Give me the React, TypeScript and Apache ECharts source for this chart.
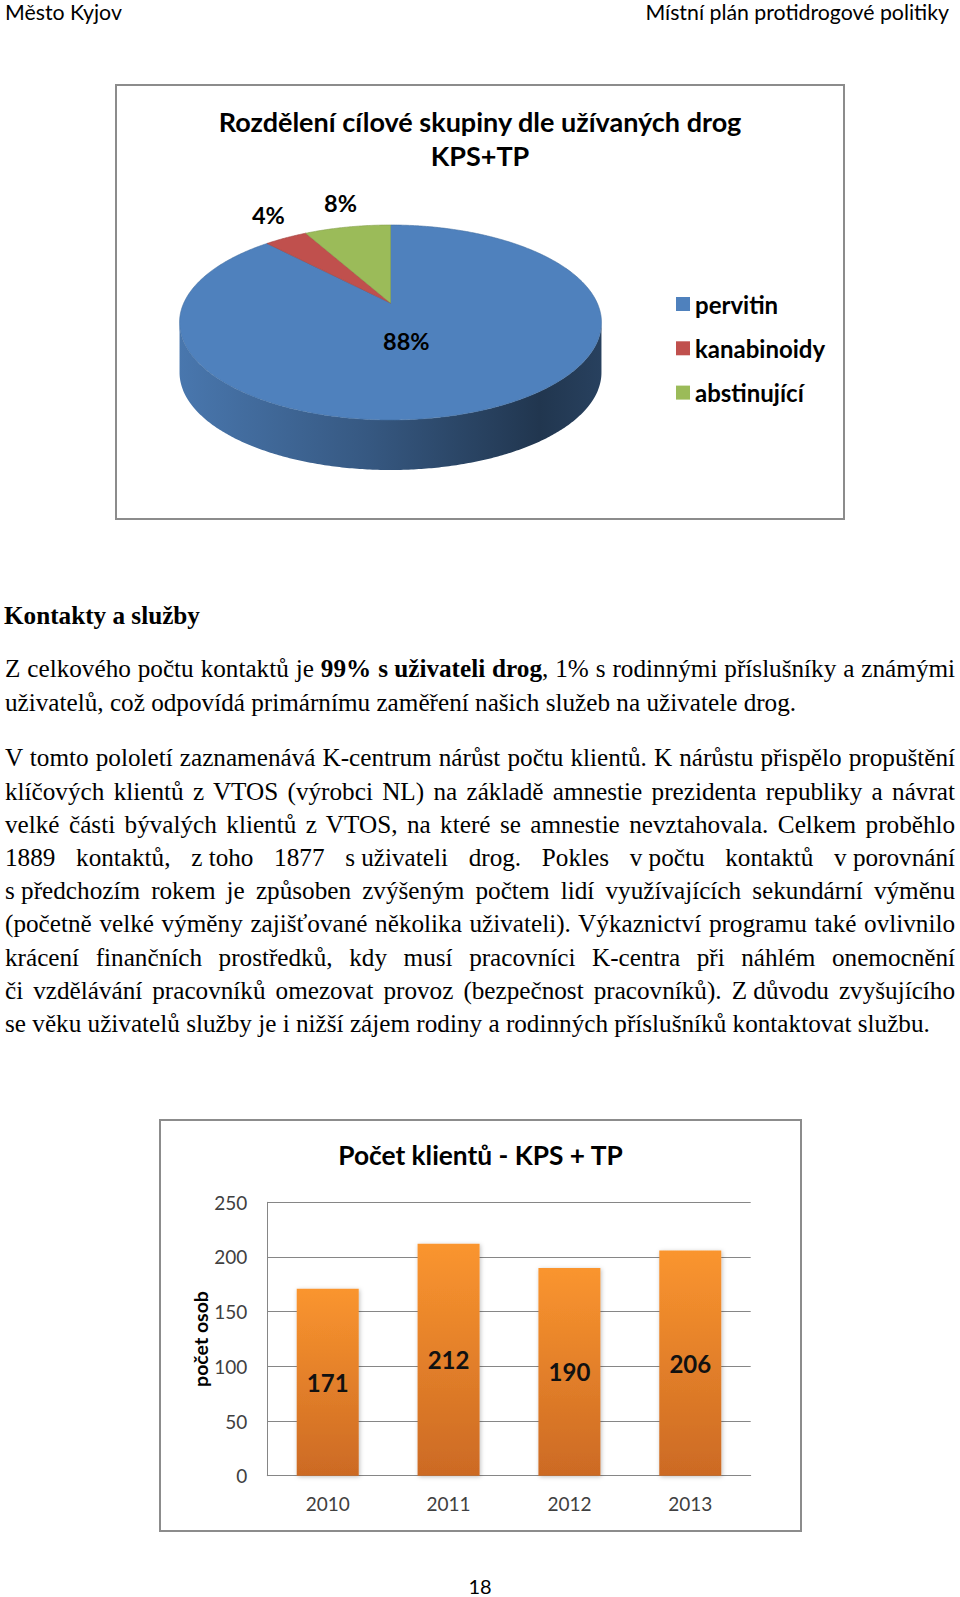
import React, { useEffect, useRef } from "react";
import * as echarts from "echarts";

// ---------- data ----------
const headerLeft = "Město Kyjov";
const headerRight = "Místní plán protidrogové politiky";
const pageNumber = "18";

const pieTitleLines = ["Rozdělení cílové skupiny dle užívaných drog", "KPS+TP"];
const pieCategories = ["pervitin", "kanabinoidy", "abstinující"];
const pieValues = [88, 4, 8];
const pieColors = ["#4F81BD", "#C0504D", "#9BBB59"];

const barTitle = "Počet klientů - KPS + TP";
const barCategories = ["2010", "2011", "2012", "2013"];
const barValues = [171, 212, 190, 206];
const barAxisName = "počet osob";
const barAxisMin = 0;
const barAxisMax = 250;
const barAxisStep = 50;

const sectionHeading = "Kontakty a služby";
const paragraph1 = [
  "Z celkového počtu kontaktů je **99% s\u00a0uživateli drog**, 1% s rodinnými příslušníky a známými",
  "uživatelů, což odpovídá primárnímu zaměření našich služeb na uživatele drog.",
];
const paragraph2 = [
  "V tomto pololetí zaznamenává K-centrum nárůst počtu klientů. K nárůstu přispělo propuštění",
  "klíčových klientů z VTOS (výrobci NL) na základě amnestie prezidenta republiky a návrat",
  "velké části bývalých klientů z VTOS, na které se amnestie nevztahovala. Celkem proběhlo",
  "1889 kontaktů, z\u00a0toho 1877 s\u00a0uživateli drog. Pokles v\u00a0počtu kontaktů v\u00a0porovnání",
  "s\u00a0předchozím rokem je způsoben zvýšeným počtem lidí využívajících sekundární výměnu",
  "(početně velké výměny zajišťované několika uživateli). Výkaznictví programu také ovlivnilo",
  "krácení finančních prostředků, kdy musí pracovníci K-centra při náhlém onemocnění",
  "či vzdělávání pracovníků omezovat provoz (bezpečnost pracovníků). Z\u00a0důvodu zvyšujícího",
  "se věku uživatelů služby je i nižší zájem rodiny a rodinných příslušníků kontaktovat službu.",
];

// ---------- helpers ----------
const SANS = "Lato, 'Open Sans', sans-serif";
const SERIF = "'Liberation Serif', 'Times New Roman', serif";
const TAU = Math.PI * 2;

function shade(hex: string, f: number) {
  const n = parseInt(hex.slice(1), 16);
  const r = (n >> 16) & 255, g = (n >> 8) & 255, b = n & 255;
  return `rgb(${Math.round(r * f)},${Math.round(g * f)},${Math.round(b * f)})`;
}

function buildPieOption(): any {
  const total = pieValues.reduce((a, b) => a + b, 0);
  const starts = pieValues.map((_, i) => pieValues.slice(0, i).reduce((a, b) => a + b, 0));
  // perspective-projected disc
  const CX = 275.5, CY = 219, RX = 206.7, RY = 93.6, P = -0.2, DEPTH = 50;
  const proj = (a: number, f = 1) => {
    const u = Math.cos(a) * f, v = Math.sin(a) * f;
    const w = 1 + P * v;
    return [CX + (RX * u) / w, CY + (RY * v) / w];
  };
  const arc = (a0: number, a1: number, dy = 0) => {
    const n = Math.max(2, Math.ceil(Math.abs(a1 - a0) / 0.01));
    const pts: number[][] = [];
    for (let i = 0; i <= n; i++) {
      const p = proj(a0 + ((a1 - a0) * i) / n);
      pts.push([p[0], p[1] + dy]);
    }
    return pts;
  };
  const sR = Math.asin(-P), sL = Math.PI - sR;
  const textStyle = { fontFamily: SANS, fontWeight: "bold", fontSize: 23.5, fill: "#000" };

  const renderItem = (params: any, api: any) => {
    const start = api.value(0), val = api.value(1);
    const color = pieColors[params.seriesIndex];
    const a0 = -Math.PI / 2 + (start / total) * TAU;
    const a1 = a0 + (val / total) * TAU;
    const children: any[] = [];
    for (const k of [-1, 0, 1]) {
      const lo = Math.max(a0, sR + k * TAU), hi = Math.min(a1, sL + k * TAU);
      if (hi > lo) {
        children.push({
          type: "polygon",
          shape: { points: arc(lo, hi).concat(arc(hi, lo, DEPTH)) },
          style: {
            fill: {
              type: "linear", x: CX - RX * 1.03, y: 0, x2: CX + RX * 1.03, y2: 0, global: true,
              colorStops: [
                { offset: 0, color: shade(color, 0.92) },
                { offset: 0.45, color: shade(color, 0.68) },
                { offset: 0.85, color: shade(color, 0.42) },
                { offset: 1, color: shade(color, 0.5) },
              ],
            },
          },
        });
      }
    }
    children.push({
      type: "polygon",
      shape: { points: [[CX, CY]].concat(arc(a0, a1)) },
      style: { fill: color, stroke: shade(color, 0.85), lineWidth: 0.6 },
    });
    const mid = (a0 + a1) / 2;
    const pct = Math.round((val / total) * 100) + "%";
    if (val / total > 0.25) {
      const p = proj(mid, 0.2);
      children.push({ type: "text", x: p[0], y: p[1] + 20, style: { text: pct, align: "center", verticalAlign: "middle", ...textStyle } });
    } else {
      const p = proj(mid, 1.2);
      children.push({ type: "text", x: p[0], y: p[1], style: { text: pct, align: "center", verticalAlign: "bottom", ...textStyle } });
    }
    return { type: "group", children };
  };

  return {
    animation: false,
    color: pieColors,
    title: {
      text: pieTitleLines.join("\n"),
      left: "center",
      top: 15,
      textStyle: { fontFamily: SANS, fontWeight: "bold", fontSize: 27, color: "#000", lineHeight: 34.3 },
    },
    graphic: [
      { type: "rect", shape: { x: 1, y: 1, width: 728, height: 434 }, style: { fill: "none", stroke: "#8c8c8c", lineWidth: 2 } },
    ],
    legend: {
      data: pieCategories,
      orient: "vertical",
      left: 561,
      top: 208,
      padding: 0,
      icon: "rect",
      itemWidth: 14,
      itemHeight: 14,
      itemGap: 20.3,
      selectedMode: false,
      textStyle: { fontFamily: SANS, fontWeight: "bold", fontSize: 24, color: "#000", lineHeight: 22 },
    },
    series: pieCategories.map((name, i) => ({
      type: "custom",
      name,
      coordinateSystem: "none",
      renderItem,
      silent: true,
      itemStyle: { color: pieColors[i] },
      data: [{ name, value: [starts[i], pieValues[i]] }],
    })),
  };
}

function buildBarOption(): any {
  return {
    animation: false,
    title: {
      text: barTitle,
      left: "center",
      top: 18,
      textStyle: { fontFamily: SANS, fontWeight: "bold", fontSize: 26.3, color: "#000" },
    },
    graphic: [
      { type: "rect", shape: { x: 1, y: 1, width: 641, height: 411 }, style: { fill: "none", stroke: "#8c8c8c", lineWidth: 2 } },
    ],
    grid: { left: 108.3, right: 51.3, top: 83.3, bottom: 56.3, outerBoundsMode: "none" },
    xAxis: {
      type: "category",
      data: barCategories,
      axisLine: { show: true, lineStyle: { color: "#868686", width: 1 } },
      axisTick: { show: false },
      axisLabel: { margin: 18, fontSize: 19, color: "#404040", fontFamily: SANS },
    },
    yAxis: {
      type: "value",
      min: barAxisMin,
      max: barAxisMax,
      interval: barAxisStep,
      name: barAxisName,
      nameLocation: "middle",
      nameRotate: 90,
      nameGap: 57,
      nameMoveOverlap: false,
      nameTextStyle: { fontFamily: SANS, fontWeight: "bold", fontSize: 19.5, color: "#000" },
      axisLine: { show: true, lineStyle: { color: "#868686", width: 1 } },
      axisTick: { show: false },
      splitLine: { lineStyle: { color: "#868686", width: 1 } },
      axisLabel: { margin: 20, fontSize: 19, color: "#404040", fontFamily: SANS },
    },
    series: [
      {
        type: "bar",
        data: barValues,
        barWidth: 62,
        itemStyle: {
          color: {
            type: "linear", x: 0, y: 0, x2: 0, y2: 1,
            colorStops: [
              { offset: 0, color: "#fa952f" },
              { offset: 1, color: "#cc6a24" },
            ],
          },
          shadowBlur: 4,
          shadowColor: "rgba(0,0,0,0.25)",
          shadowOffsetX: 1,
          shadowOffsetY: 1,
        },
        label: { show: true, position: "inside", fontSize: 24, fontWeight: "bold", color: "#111", fontFamily: SANS },
      },
    ],
  };
}

function Chart({ left, top, width, height, build }: any) {
  const ref = useRef<HTMLDivElement>(null);
  useEffect(() => {
    const chart = echarts.init(ref.current!, null, { renderer: "svg" });
    chart.setOption(build());
    return () => chart.dispose();
  }, []);
  return <div ref={ref} style={{ position: "absolute", left, top, width, height }} />;
}

function renderLine(line: string) {
  return line.split("**").map((part, i) => {
    const nodes: any[] = [];
    part.split(" ").forEach((tok, j) => {
      if (j > 0) nodes.push(" ");
      if (tok.includes("\u00a0")) nodes.push(<span key={j} style={{ display: "inline-block" }}>{tok}</span>);
      else nodes.push(tok);
    });
    return i % 2 ? <b key={i}>{nodes}</b> : <span key={i}>{nodes}</span>;
  });
}

const LINE_H = 33.2;
const TEXT_LEFT = 5;
const TEXT_W = 950;

function Paragraph({ lines, firstCenter }: { lines: string[]; firstCenter: number }) {
  return (
    <>
      {lines.map((l, i) => {
        const last = i === lines.length - 1;
        return (
          <div
            key={i}
            style={{
              position: "absolute",
              left: TEXT_LEFT,
              top: firstCenter + i * LINE_H - LINE_H / 2,
              width: TEXT_W,
              lineHeight: LINE_H + "px",
              height: LINE_H,
              whiteSpace: "nowrap",
              textAlign: last ? "left" : "justify",
              textAlignLast: last ? "left" : "justify",
            } as any}
          >
            {renderLine(l)}
          </div>
        );
      })}
    </>
  );
}

export default function App() {
  return (
    <div
      style={{
        position: "absolute",
        left: 0,
        top: 0,
        width: 960,
        height: 1597,
        background: "#fff",
        overflow: "hidden",
        fontFamily: SERIF,
        fontSize: 25.2,
        color: "#000",
      }}
    >
      <div style={{ position: "absolute", left: 5, top: 0, fontFamily: SANS, fontSize: 21.3, lineHeight: "24px" }}>{headerLeft}</div>
      <div style={{ position: "absolute", right: 11, top: 0, fontFamily: SANS, fontSize: 21.3, lineHeight: "24px", textAlign: "right" }}>
        {headerRight}
      </div>

      <Chart left={115} top={84} width={730} height={436} build={buildPieOption} />

      <div style={{ position: "absolute", left: 4, top: 616 - LINE_H / 2, lineHeight: LINE_H + "px", fontWeight: "bold" }}>
        {sectionHeading}
      </div>
      <Paragraph lines={paragraph1} firstCenter={669} />
      <Paragraph lines={paragraph2} firstCenter={758} />

      <Chart left={159} top={1119} width={643} height={413} build={buildBarOption} />

      <div style={{ position: "absolute", left: 0, width: 960, top: 1575, textAlign: "center", fontFamily: SANS, fontSize: 20, lineHeight: "22px" }}>
        {pageNumber}
      </div>
    </div>
  );
}
